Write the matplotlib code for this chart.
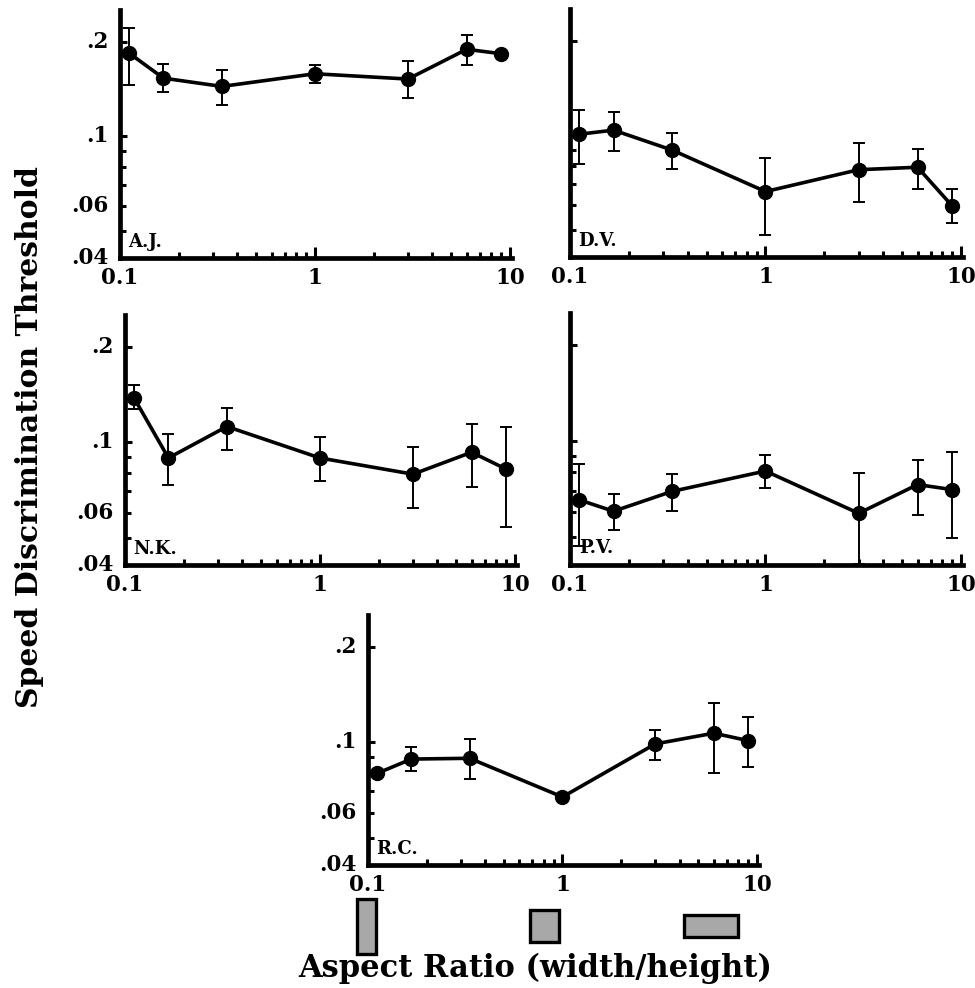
#!/usr/bin/env python3
"""Speed discrimination threshold vs aspect ratio, five observers (log-log panels)."""
import numpy as np
import matplotlib
matplotlib.use('Agg')
import matplotlib.pyplot as plt
from matplotlib.patches import Rectangle
from matplotlib.ticker import FixedLocator, NullFormatter, LogLocator

plt.rcParams.update({
    'font.family': 'serif',
    'font.serif': ['DejaVu Serif', 'Liberation Serif'],
    'font.weight': 'bold',
})

# --- data ---
aspect = np.array([0.111, 0.167, 0.333, 1.0, 3.0, 6.0, 9.0])

aj_y = [0.184, 0.153, 0.144, 0.158, 0.152, 0.189, 0.183]
aj_lo = [0.146, 0.138, 0.126, 0.148, 0.132, 0.168, 0.183]
aj_hi = [0.221, 0.170, 0.163, 0.169, 0.174, 0.210, 0.183]

dv_y = [0.1007, 0.1038, 0.0897, 0.0662, 0.0777, 0.0791, 0.0597]
dv_lo = [0.0813, 0.0890, 0.0782, 0.0481, 0.0615, 0.0674, 0.0526]
dv_hi = [0.1203, 0.1183, 0.1020, 0.0846, 0.0947, 0.0902, 0.0674]

nk_y = [0.1383, 0.0892, 0.1121, 0.0892, 0.0793, 0.0930, 0.0823]
nk_lo = [0.1276, 0.0734, 0.0946, 0.0752, 0.0622, 0.0725, 0.0540]
nk_hi = [0.1520, 0.1063, 0.1282, 0.1042, 0.0969, 0.1143, 0.1116]

pv_y = [0.0656, 0.0604, 0.0697, 0.0807, 0.0595, 0.0732, 0.0706]
pv_lo = [0.0470, 0.0527, 0.0607, 0.0714, 0.0412, 0.0588, 0.0497]
pv_hi = [0.0849, 0.0686, 0.0790, 0.0905, 0.0793, 0.0875, 0.0923]

rc_y = [0.0797, 0.0885, 0.0890, 0.0672, 0.0988, 0.1068, 0.1012]
rc_lo = [0.0797, 0.0809, 0.0765, 0.0672, 0.0879, 0.0799, 0.0833]
rc_hi = [0.0797, 0.0969, 0.1024, 0.0672, 0.1097, 0.1330, 0.1200]

subjects = ['A.J.', 'D.V.', 'N.K.', 'P.V.', 'R.C.']
y_major = [0.1, 0.2]
y_minor = [0.05, 0.06, 0.07, 0.08, 0.09]
y_ticklabels = {0.2: '.2', 0.1: '.1', 0.06: '.06', 0.041: '.04'}
x_ticklabels = ['0.1', '1', '10']
# example stimulus shapes under the bottom axis (width, height in px)
icon_w = [19, 29, 54]
icon_h = [55, 32, 22]

W, H = 975, 988
fig = plt.figure(figsize=(W / 100, H / 100), dpi=100)


def px_axes(left, top, right, bottom):
    return fig.add_axes([left / W, 1 - bottom / H, (right - left) / W, (bottom - top) / H])


panels = [
    (px_axes(120, 10, 512, 258), aj_y, aj_lo, aj_hi, True),
    (px_axes(570, 9, 963, 257), dv_y, dv_lo, dv_hi, False),
    (px_axes(125, 315, 517, 565), nk_y, nk_lo, nk_hi, True),
    (px_axes(570, 313, 963, 565), pv_y, pv_lo, pv_hi, False),
    (px_axes(368, 615, 759, 865), rc_y, rc_lo, rc_hi, True),
]

for (ax, y, lo, hi, ylab), name in zip(panels, subjects):
    y, lo, hi = map(np.asarray, (y, lo, hi))
    ax.errorbar(aspect, y, yerr=[y - lo, hi - y], fmt='-o', color='black',
                lw=2.6, ms=10, ecolor='black', elinewidth=1.4, capsize=4,
                capthick=1.4, clip_on=False, zorder=3)
    ax.set_xscale('log')
    ax.set_yscale('log')
    ax.set_xlim(0.1, 10.25)
    ax.set_ylim(0.041, 0.252)

    for s in ('top', 'right'):
        ax.spines[s].set_visible(False)
    for s in ('left', 'bottom'):
        ax.spines[s].set_linewidth(3.4)

    # x ticks (inward)
    ax.xaxis.set_major_locator(FixedLocator([1, 10]))
    ax.xaxis.set_minor_locator(LogLocator(base=10, subs=np.arange(2, 10)))
    ax.xaxis.set_major_formatter(NullFormatter())
    ax.xaxis.set_minor_formatter(NullFormatter())
    ax.tick_params(axis='x', which='major', direction='in', length=8, width=2.2)
    ax.tick_params(axis='x', which='minor', direction='in', length=4, width=2.2)
    for xv, lab in zip([0.1, 1, 10], x_ticklabels):
        ax.text(xv, -0.035, lab, transform=ax.get_xaxis_transform(),
                ha='center', va='top', fontsize=15.5, fontweight='bold')

    # y ticks (inward)
    ax.yaxis.set_major_locator(FixedLocator(y_major))
    ax.yaxis.set_minor_locator(FixedLocator(y_minor))
    ax.yaxis.set_major_formatter(NullFormatter())
    ax.yaxis.set_minor_formatter(NullFormatter())
    ax.tick_params(axis='y', which='major', direction='in', length=5, width=2.2)
    ax.tick_params(axis='y', which='minor', direction='in', length=4, width=2.2)
    if ylab:
        for yv, lab in y_ticklabels.items():
            ax.text(-0.03, yv, lab, transform=ax.get_yaxis_transform(),
                    ha='right', va='center', fontsize=15.5, fontweight='bold')

    ax.text(0.022, 0.03, name, transform=ax.transAxes, ha='left', va='bottom',
            fontsize=13, fontweight='bold')

fig.text(30 / W, 1 - 437 / H, 'Speed Discrimination Threshold', rotation=90,
         ha='center', va='center', fontsize=21.5, fontweight='bold')
fig.text(535 / W, 1 - 968 / H, 'Aspect Ratio (width/height)',
         ha='center', va='center', fontsize=22, fontweight='bold')

for cx, w, h in zip([366, 544, 711], icon_w, icon_h):
    cy = 926
    fig.add_artist(Rectangle(((cx - w / 2) / W, 1 - (cy + h / 2) / H), w / W, h / H,
                             transform=fig.transFigure, facecolor='#a8a8a8',
                             edgecolor='black', linewidth=2.4))

fig.savefig('out.png', dpi=100)
plt.close(fig)
